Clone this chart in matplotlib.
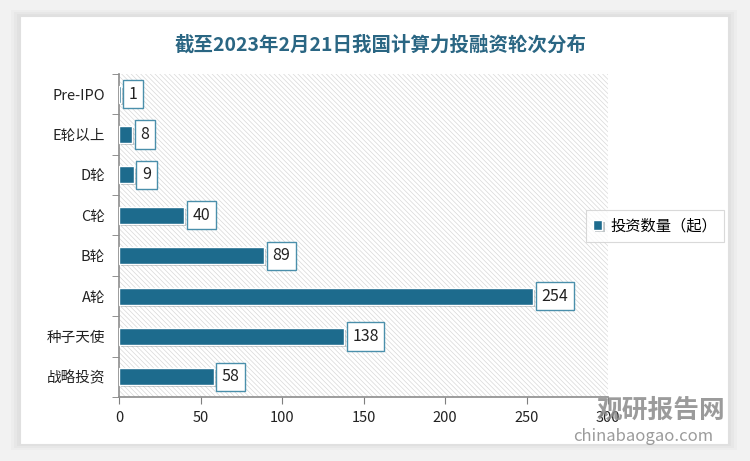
import matplotlib.pyplot as plt
from matplotlib.patches import Rectangle
import matplotlib.patheffects as pe

plt.rcParams['font.family'] = ['Noto Sans CJK SC', 'DejaVu Sans']
plt.rcParams['hatch.color'] = '#d8d8d8'
plt.rcParams['hatch.linewidth'] = 0.5

categories = ['战略投资', '种子天使', 'A轮', 'B轮', 'C轮', 'D轮', 'E轮以上', 'Pre-IPO']
counts = [58, 138, 254, 89, 40, 9, 8, 1]
xticks = [0, 50, 100, 150, 200, 250, 300]

bar_color = '#1d6b8d'
title_color = '#2a6683'

fig = plt.figure(figsize=(7.5, 4.61), dpi=100)
fig.patch.set_facecolor('#f2f2f2')

# white card with soft shadow
for i, a in enumerate([0.04, 0.05, 0.06]):
    d = (3 - i) * 0.004
    fig.patches.append(Rectangle((20 / 750 - d, 1 - 444 / 461 - d), 708 / 750 + 2 * d, 428 / 461 + 2 * d,
                                 transform=fig.transFigure, facecolor='#888888', alpha=a,
                                 edgecolor='none', zorder=-5))
fig.patches.append(Rectangle((20 / 750, 1 - 444 / 461), 708 / 750, 428 / 461,
                             transform=fig.transFigure, facecolor='white',
                             edgecolor='#e0e0e0', linewidth=0.8, zorder=-4))

ax = fig.add_axes([119 / 750, 1 - 397 / 461, 489 / 750, 323 / 461])
ax.set_zorder(2)
ax.set_facecolor('white')
ax.add_patch(Rectangle((0, 0), 1, 1, transform=ax.transAxes, facecolor='white',
                       hatch='\\\\\\\\\\\\\\', edgecolor='#d8d8d8', linewidth=0, zorder=0))

y = list(range(len(categories)))
bars = ax.barh(y, counts, height=0.42, color=bar_color, edgecolor='white', linewidth=1.0, zorder=3,
               path_effects=[pe.SimplePatchShadow(offset=(1.5, -1.5), alpha=0.25), pe.Normal()])

for yi, v in zip(y, counts):
    ax.annotate(str(v), (v, yi), xytext=(6, 0), textcoords='offset points', va='center', ha='left',
                fontsize=11.5, color='#222222', zorder=5,
                bbox=dict(boxstyle='square,pad=0.35', facecolor='white', edgecolor='#4a8fab', linewidth=1.0))

ax.set_xlim(0, 300)
ax.set_ylim(-0.5, len(categories) - 0.5)
ax.set_xticks(xticks)
ax.set_xticklabels([str(t) for t in xticks], fontsize=10.5, color='#222222')
ax.set_yticks(y)
ax.set_yticklabels(categories, fontsize=10.5, color='#222222')
ax.set_yticks([i - 0.5 for i in range(len(categories) + 1)], minor=True)
ax.tick_params(axis='y', which='major', length=0, pad=10)
ax.tick_params(axis='y', which='minor', length=5, color='#7f7f7f', direction='out')
ax.tick_params(axis='x', length=5, color='#7f7f7f', direction='out', pad=5)
for s in ['top', 'right']:
    ax.spines[s].set_visible(False)
for s in ['left', 'bottom']:
    ax.spines[s].set_color('#8c8c8c')
    ax.spines[s].set_linewidth(1.2)

fig.text(381 / 750, 1 - 45 / 461, '截至2023年2月21日我国计算力投融资轮次分布', ha='center', va='center',
         fontsize=14, color=title_color, fontweight='bold')

leg = ax.legend([bars], ['投资数量（起）'], loc='center left', bbox_to_anchor=(578 / 750, 1 - 226 / 461),
                bbox_transform=fig.transFigure, frameon=True, fancybox=False, fontsize=11,
                handlelength=0.6, handleheight=0.6, handletextpad=0.5, borderpad=0.5)
leg.get_frame().set_edgecolor('#d0d0d0')
leg.get_frame().set_linewidth(0.8)

# watermark
fig.text(597 / 750, 1 - 410 / 461, '观研报告网', fontsize=18.5, color='#8a8a8a', fontweight='bold',
         ha='left', va='center', alpha=0.85, zorder=10)
fig.text(573 / 750, 1 - 436 / 461, 'chinabaogao.com', fontsize=12, color='#8a8a8a',
         ha='left', va='center', alpha=0.85, zorder=10)

fig.savefig('out.png', dpi=100, facecolor=fig.get_facecolor())
